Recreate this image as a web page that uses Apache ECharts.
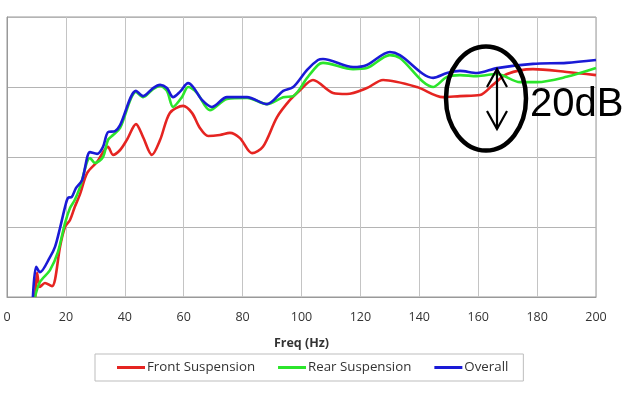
<!DOCTYPE html>
<html>
<head>
<meta charset="utf-8">
<script src="https://cdn.jsdelivr.net/npm/echarts@6/dist/echarts.min.js"></script>
<style>html,body{margin:0;padding:0;background:#fff}#c{width:626px;height:397px}</style>
</head>
<body>
<div id="c"></div>
<script>
const xTicks = [0, 20, 40, 60, 80, 100, 120, 140, 160, 180, 200];
const seriesNames = ['Front Suspension', 'Rear Suspension', 'Overall'];

const frontFreq = [9.6,10.2,11.2,12.9,15.3,16.3,18,19.7,21.4,23,24.8,27.2,30.6,34.3,36,38.4,40.7,43.8,46.2,49.2,52,55.3,59.8,62.8,65.5,68.3,72.3,75.7,79.1,83.2,86.9,91.7,96.1,99.5,103.9,110.7,115.4,122.2,127.7,139.2,148,153.8,160.6,165,169.8,178.6,190,200];
const frontVals = [0,6.9,2.9,4,3.1,4.9,14.3,20,22,25.7,29.4,35.4,38.6,42.9,40.6,42,44.9,49.4,45.7,40.6,44.9,52.6,54.6,52.6,48.3,46,46.3,46.9,45.4,41.1,42.9,51.4,56.3,59.1,62,58.3,58,59.7,62,60,57.1,57.4,57.7,60.6,63.7,65.1,64.3,63.4];

const rearFreq = [9.5,11.2,14.6,17.3,19.7,21.4,23,24.8,28.2,29.9,32.6,34.3,36,38.4,43.8,46.2,49.6,52,54.3,56.4,59.4,61.5,64.5,68.9,74.7,81.5,88.3,93.8,97.2,101.9,105.6,107.3,117.5,122.2,130,133.4,144.7,149.4,153.8,159.6,166.4,174.2,180,190,200];
const rearVals = [0,4.3,7.7,12.9,21.1,25.4,27.7,31.4,39.7,38.3,40,44.9,46.3,48.3,58.6,57.1,59.4,60.3,58.9,54.3,57.1,60,58.3,53.4,56.6,56.9,55.1,57.1,57.4,62.6,66.3,66.9,65.1,65.4,69.1,68.3,60,62.9,63.4,63.1,63.7,61.4,61.4,62.9,65.4];

const overallFreq = [8.8,9.9,11.2,14.6,16.3,18,19.7,20.7,22,23.4,25.5,28.2,30.6,32.6,34.3,36.7,38.4,43.8,46.2,49.6,52,54.3,56.4,58.7,61.5,63.2,66.2,69.6,74.7,81.5,88.3,93.8,97.2,101.9,105.6,107.3,117.5,122.2,130,133.4,144.7,149.4,153.8,159.6,166.4,178.6,190,200];
const overallVals = [0,8.6,7.1,11.4,14.3,19.7,25.7,28.3,28.6,31.1,33.4,41.4,40.9,42.9,47.1,47.4,49.1,58.9,57.4,59.7,60.6,59.7,57.1,58.6,61.1,60,56.3,54.3,57.1,57.1,55.1,58.9,60,64.9,67.7,68,65.7,66.3,70,69.1,62.6,64,64.6,64,65.4,66.6,66.9,67.7];

const colors = ['#e52421', '#2be52b', '#1a1ad6'];
const pair = (xs, ys) => xs.map((x, i) => [x, ys[i]]);
const dataSets = [pair(frontFreq, frontVals), pair(rearFreq, rearVals), pair(overallFreq, overallVals)];

const chart = echarts.init(document.getElementById('c'), null, {renderer: 'canvas'});
chart.setOption({
  animation: false,
  backgroundColor: '#fff',
  textStyle: {fontFamily: 'Open Sans'},
  grid: {left: 7, right: 30, top: 17, bottom: 100, show: true, borderColor: '#999', borderWidth: 1},
  xAxis: {
    type: 'value', min: 0, max: 200, interval: 20,
    name: 'Freq (Hz)', nameLocation: 'middle', nameGap: 40,
    nameTextStyle: {fontWeight: 'bold', fontSize: 12.5, color: '#333', fontFamily: 'Open Sans'},
    axisLine: {show: true, lineStyle: {color: '#999'}},
    axisTick: {show: false},
    axisLabel: {color: '#333', fontSize: 12.5, margin: 14, fontFamily: 'Open Sans', formatter: v => xTicks.includes(v) ? String(v) : ''},
    splitLine: {show: true, lineStyle: {color: '#c4c4c4', width: 1}}
  },
  yAxis: {
    type: 'value', min: 0, max: 80, interval: 20,
    axisLine: {show: true, lineStyle: {color: '#999'}},
    axisTick: {show: false},
    axisLabel: {show: false},
    splitLine: {show: true, lineStyle: {color: '#b4b4b4', width: 1}}
  },
  legend: {
    left: 95, top: 354,
    padding: [7, 15, 7, 22],
    borderColor: '#bdbdbd', borderWidth: 1,
    itemWidth: 28, itemHeight: 3, itemGap: 23,
    icon: 'rect',
    textStyle: {fontSize: 13.3, color: '#333', fontFamily: 'Open Sans', padding: [0, 0, 0, -3]},
    data: seriesNames
  },
  series: seriesNames.map((n, i) => ({
    name: n, type: 'line', data: dataSets[i], smooth: 0.3,
    showSymbol: false, symbol: 'none',
    lineStyle: {color: colors[i], width: 2.6},
    itemStyle: {color: colors[i]}
  })),
  graphic: [
    {type: 'ellipse', shape: {cx: 486, cy: 98.5, rx: 40, ry: 52}, style: {fill: 'none', stroke: '#000', lineWidth: 4.5}, z: 100},
    {type: 'line', shape: {x1: 497, y1: 69, x2: 497, y2: 129}, style: {stroke: '#000', lineWidth: 2.2}, z: 100},
    {type: 'polyline', shape: {points: [[487, 87], [497, 69], [507, 87]]}, style: {stroke: '#000', fill: 'none', lineWidth: 2.2}, z: 100},
    {type: 'polyline', shape: {points: [[487, 111], [497, 129], [507, 111]]}, style: {stroke: '#000', fill: 'none', lineWidth: 2.2}, z: 100},
    {type: 'text', x: 530, y: 85, style: {text: '20dB', fontSize: 40, fill: '#000', fontFamily: 'Liberation Sans'}, z: 100}
  ]
});
</script>
</body>
</html>
